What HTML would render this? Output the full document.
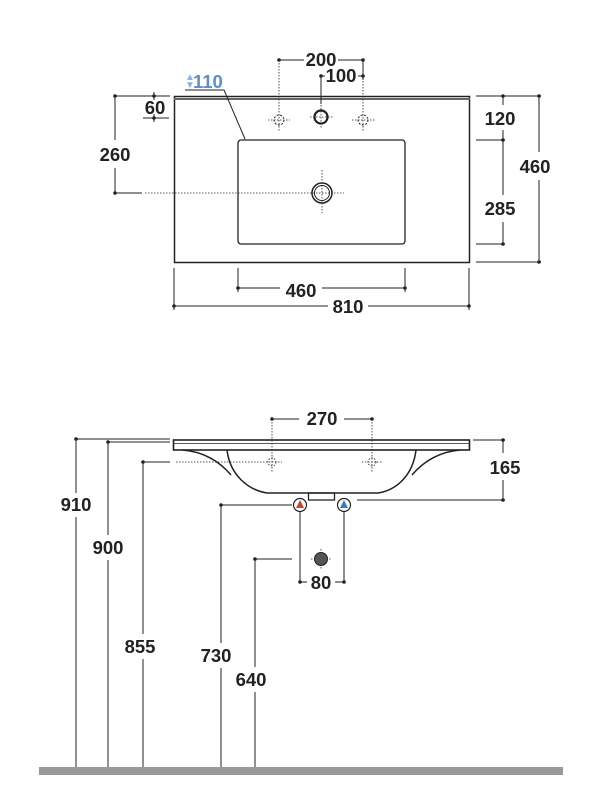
<!DOCTYPE html>
<html><head><meta charset="utf-8"><style>
html,body{margin:0;padding:0;background:#fff;}
svg{display:block;}
text{font-family:"Liberation Sans",sans-serif;font-weight:bold;font-size:18.5px;fill:#222;}
</style></head><body>
<svg width="609" height="796" viewBox="0 0 609 796" xmlns="http://www.w3.org/2000/svg">
<g stroke="#222" stroke-width="1" fill="none">
<rect x="174.5" y="96.5" width="295" height="166" stroke-width="1.5"/>
<line x1="174" y1="99" x2="470" y2="99" stroke="#666" stroke-width="2"/>
<rect x="238" y="140" width="167" height="104" rx="3" stroke-width="1.3"/>
<circle cx="322" cy="193" r="10" stroke-width="1.5"/>
<circle cx="322" cy="193" r="7.5" stroke-width="1"/>
<circle cx="321" cy="117" r="6.5" stroke-width="2.2"/>
<circle cx="279" cy="120" r="5" stroke-dasharray="2 1.5"/>
<circle cx="363" cy="120" r="5" stroke-dasharray="2 1.5"/>
<g stroke-dasharray="1.5 1.5" stroke-width="0.8">
<line x1="279" y1="60" x2="279" y2="131"/><line x1="268" y1="120" x2="290" y2="120"/>
<line x1="363" y1="60" x2="363" y2="131"/><line x1="352" y1="120" x2="375" y2="120"/>
<line x1="321" y1="105" x2="321" y2="128"/><line x1="310" y1="117" x2="334" y2="117"/>
<line x1="322" y1="170" x2="322" y2="213"/><line x1="145" y1="193" x2="344" y2="193"/>
</g>
<line x1="321" y1="76" x2="321" y2="104"/>
<line x1="279" y1="60" x2="304" y2="60"/><line x1="338" y1="60" x2="363" y2="60"/>
<line x1="321" y1="76" x2="325" y2="76"/><line x1="358" y1="76" x2="363" y2="76"/>
<line x1="363" y1="60" x2="363" y2="80"/>
<line x1="185" y1="90" x2="224" y2="90"/><line x1="224" y1="90" x2="245" y2="139"/>
<line x1="115" y1="96" x2="170" y2="96"/>
<line x1="143" y1="118" x2="169" y2="118"/>
<line x1="154" y1="92" x2="154" y2="100"/><line x1="154" y1="114" x2="154" y2="122"/>
<line x1="115" y1="96" x2="115" y2="140"/><line x1="115" y1="168" x2="115" y2="193"/>
<line x1="115" y1="193" x2="142" y2="193"/>
<line x1="476" y1="96" x2="541" y2="96"/>
<line x1="476" y1="140" x2="505" y2="140"/>
<line x1="476" y1="244" x2="505" y2="244"/>
<line x1="476" y1="262" x2="541" y2="262"/>
<line x1="503" y1="96" x2="503" y2="105"/><line x1="503" y1="130" x2="503" y2="195"/><line x1="503" y1="222" x2="503" y2="244"/>
<line x1="539" y1="96" x2="539" y2="152"/><line x1="539" y1="180" x2="539" y2="262"/>
<line x1="174" y1="268" x2="174" y2="310"/><line x1="469" y1="268" x2="469" y2="310"/>
<line x1="238" y1="268" x2="238" y2="292"/><line x1="405" y1="268" x2="405" y2="292"/>
<line x1="238" y1="288" x2="280" y2="288"/><line x1="322" y1="288" x2="405" y2="288"/>
<line x1="174" y1="306" x2="328" y2="306"/><line x1="368" y1="306" x2="469" y2="306"/>

<rect x="173.5" y="440" width="296" height="10" stroke-width="1.6"/>
<line x1="174" y1="443.5" x2="469" y2="443.5" stroke-width="0.8"/>
<path d="M227 450 C230 475 248 490 267 493 L378 493 C397 490 413 475 416 450" stroke-width="1.5"/>
<path d="M183 450 C205 452 220 462 231 475" stroke-width="1.5"/>
<path d="M460 450 C438 452 423 462 412 475" stroke-width="1.5"/>
<rect x="308.5" y="493" width="26" height="7" stroke-width="1.3"/>
<g stroke-dasharray="1.5 1.5" stroke-width="0.8">
<line x1="272" y1="419" x2="272" y2="472"/><line x1="372" y1="419" x2="372" y2="472"/>
<line x1="176" y1="462" x2="282" y2="462"/><line x1="362" y1="462" x2="382" y2="462"/>
<circle cx="272" cy="462" r="4"/><circle cx="372" cy="462" r="4"/>
<line x1="311" y1="559" x2="331" y2="559"/><line x1="321" y1="549" x2="321" y2="569"/>
</g>
<line x1="272" y1="419" x2="299" y2="419"/><line x1="344" y1="419" x2="372" y2="419"/>
<line x1="473" y1="440" x2="505" y2="440"/>
<line x1="357" y1="500" x2="505" y2="500"/>
<line x1="503" y1="440" x2="503" y2="453"/><line x1="503" y1="480" x2="503" y2="500"/>
<line x1="76" y1="439" x2="170" y2="439"/>
<line x1="108" y1="442" x2="170" y2="442"/>
<line x1="143" y1="462" x2="170" y2="462"/>
<line x1="220" y1="505" x2="292" y2="505"/>
<line x1="254" y1="559" x2="292" y2="559"/>
<line x1="300" y1="512" x2="300" y2="582"/><line x1="344" y1="512" x2="344" y2="582"/>
<line x1="300" y1="582" x2="307" y2="582"/><line x1="335" y1="582" x2="344" y2="582"/>
<line x1="76" y1="439" x2="76" y2="493"/><line x1="76" y1="517" x2="76" y2="768"/>
<line x1="108" y1="442" x2="108" y2="535"/><line x1="108" y1="560" x2="108" y2="768"/>
<line x1="143" y1="462" x2="143" y2="634"/><line x1="143" y1="659" x2="143" y2="768"/>
<line x1="221" y1="505" x2="221" y2="643"/><line x1="221" y1="668" x2="221" y2="768"/>
<line x1="255" y1="559" x2="255" y2="667"/><line x1="255" y1="692" x2="255" y2="768"/>
</g>
<g fill="#222">
<circle cx="279" cy="60" r="1.8"/><circle cx="363" cy="60" r="1.8"/><circle cx="321" cy="76" r="1.8"/><circle cx="363" cy="76" r="1.8"/>
<circle cx="154" cy="96" r="1.8"/><circle cx="154" cy="118" r="1.8"/><circle cx="115" cy="96" r="1.8"/><circle cx="115" cy="193" r="1.8"/>
<circle cx="503" cy="96" r="1.8"/><circle cx="503" cy="140" r="1.8"/><circle cx="503" cy="244" r="1.8"/><circle cx="539" cy="96" r="1.8"/><circle cx="539" cy="262" r="1.8"/>
<circle cx="238" cy="288" r="1.8"/><circle cx="405" cy="288" r="1.8"/><circle cx="174" cy="306" r="1.8"/><circle cx="469" cy="306" r="1.8"/>
<circle cx="272" cy="419" r="1.8"/><circle cx="372" cy="419" r="1.8"/><circle cx="503" cy="440" r="1.8"/><circle cx="503" cy="500" r="1.8"/>
<circle cx="76" cy="439" r="1.8"/><circle cx="108" cy="442" r="1.8"/><circle cx="143" cy="462" r="1.8"/><circle cx="221" cy="505" r="1.8"/><circle cx="255" cy="559" r="1.8"/>
<circle cx="300" cy="582" r="1.8"/><circle cx="344" cy="582" r="1.8"/>
</g>
<circle cx="300" cy="505" r="6.5" fill="#fff" stroke="#222" stroke-width="1.2"/>
<path d="M296 508 L300 500 L304 508 Z" fill="#c8452c"/>
<circle cx="344" cy="505" r="6.5" fill="#fff" stroke="#222" stroke-width="1.2"/>
<path d="M340 508 L344 500 L348 508 Z" fill="#3a7bc8"/>
<circle cx="321" cy="559" r="6.5" fill="#555" stroke="#222" stroke-width="1"/>
<rect x="39" y="767" width="524" height="8" fill="#999"/>
<text x="321" y="66" text-anchor="middle">200</text>
<text x="341" y="82" text-anchor="middle">100</text>
<text x="193" y="88" style="fill:#5b8fc8">110</text>
<text x="185" y="80" style="fill:#8fb2dd;font-size:10px">▲</text>
<text x="185" y="88" style="fill:#8fb2dd;font-size:10px">▼</text>
<text x="155" y="114" text-anchor="middle">60</text>
<text x="115" y="161" text-anchor="middle">260</text>
<text x="500" y="125" text-anchor="middle">120</text>
<text x="500" y="215" text-anchor="middle">285</text>
<text x="535" y="173" text-anchor="middle">460</text>
<text x="301" y="297" text-anchor="middle">460</text>
<text x="348" y="313" text-anchor="middle">810</text>
<text x="322" y="425" text-anchor="middle">270</text>
<text x="505" y="474" text-anchor="middle">165</text>
<text x="321" y="589" text-anchor="middle">80</text>
<text x="76" y="511" text-anchor="middle">910</text>
<text x="108" y="554" text-anchor="middle">900</text>
<text x="140" y="653" text-anchor="middle">855</text>
<text x="216" y="662" text-anchor="middle">730</text>
<text x="251" y="686" text-anchor="middle">640</text>
</svg>
</body></html>
